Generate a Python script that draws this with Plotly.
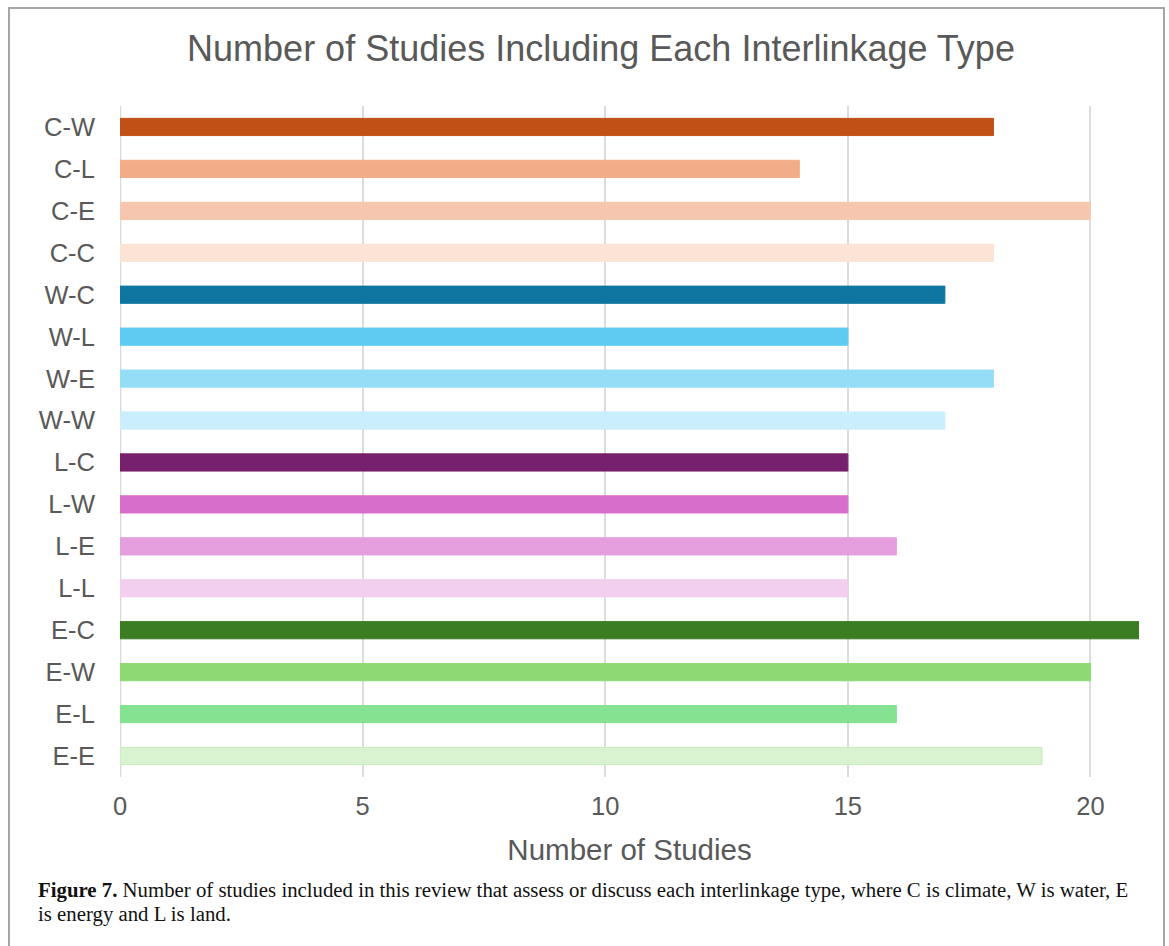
import plotly.graph_objects as go

# Interlinkage types, listed top to bottom
categories = ["C-W", "C-L", "C-E", "C-C",
              "W-C", "W-L", "W-E", "W-W",
              "L-C", "L-W", "L-E", "L-L",
              "E-C", "E-W", "E-L", "E-E"]
studies = [18, 14, 20, 18,
           17, 15, 18, 17,
           15, 15, 16, 15,
           21, 20, 16, 19]
bar_colors = ["#C05016", "#F2AC87", "#F6C7AE", "#FBE3D6",
              "#0E76A0", "#5FCBF2", "#95DCF7", "#CAEEFB",
              "#77206D", "#D86ECC", "#E59EDD", "#F2CEEF",
              "#3B7D23", "#8ED973", "#84E290", "#D9F2D0"]
edge_colors = bar_colors[:-1] + ["#C6EDB8"]
x_ticks = [0, 5, 10, 15, 20]

W, H = 1169, 946
L, R, T, B = 120, 1139, 106, 777


def px(x):
    return (x - L) / (R - L)


def py(y):
    return (B - y) / (B - T)


grey = "#595959"
sans = "Liberation Sans, Arial, sans-serif"
serif = "Liberation Serif, Times New Roman, serif"

fig = go.Figure(go.Bar(
    x=studies,
    y=categories,
    orientation="h",
    marker=dict(color=bar_colors, line=dict(color=edge_colors, width=1)),
    width=0.41,
    hoverinfo="x+y",
))

fig.update_layout(
    width=W,
    height=H,
    margin=dict(l=L, r=W - R, t=T, b=H - B, pad=0),
    paper_bgcolor="white",
    plot_bgcolor="white",
    showlegend=False,
    title=dict(
        text="Number of Studies Including Each Interlinkage Type",
        font=dict(family=sans, size=36, color=grey),
        x=px(601), xanchor="center", xref="paper",
        y=1 - 48 / H, yanchor="middle", yref="container",
    ),
    xaxis=dict(
        range=[0, 21],
        tickvals=x_ticks,
        showgrid=True,
        gridcolor="#DCDCDC",
        gridwidth=2,
        zeroline=False,
        showline=False,
        ticks="",
        tickfont=dict(family=sans, size=25.5, color=grey),
        ticklabelstandoff=11,
        title=dict(text="Number of Studies",
                   font=dict(family=sans, size=29.5, color=grey),
                   standoff=20),
    ),
    yaxis=dict(
        categoryorder="array",
        categoryarray=categories,
        autorange="reversed",
        showgrid=False,
        zeroline=False,
        showline=False,
        ticks="",
        tickfont=dict(family=sans, size=25.5, color=grey),
        ticklabelstandoff=24,
    ),
    shapes=[
        # chart frame
        dict(type="rect", xref="paper", yref="paper",
             x0=px(9), x1=px(1164), y0=py(8), y1=py(960),
             line=dict(color="#A6A6A6", width=2), fillcolor="rgba(0,0,0,0)",
             layer="below"),
        # value axis baseline at zero
        dict(type="line", xref="x", yref="paper",
             x0=0, x1=0, y0=0, y1=1,
             line=dict(color="#D9D9D9", width=2.5), layer="below"),
    ],
    annotations=[
        dict(text="<b>Figure 7.</b> Number of studies included in this review that assess or "
                  "discuss each interlinkage type, where C is climate, W is water, E",
             xref="paper", yref="paper", x=px(36), y=py(890),
             xanchor="left", yanchor="middle", showarrow=False,
             font=dict(family=serif, size=20.8, color="#111111")),
        dict(text="is energy and L is land.",
             xref="paper", yref="paper", x=px(36), y=py(914),
             xanchor="left", yanchor="middle", showarrow=False,
             font=dict(family=serif, size=20.8, color="#111111")),
    ],
)

fig.write_html("out.html")
